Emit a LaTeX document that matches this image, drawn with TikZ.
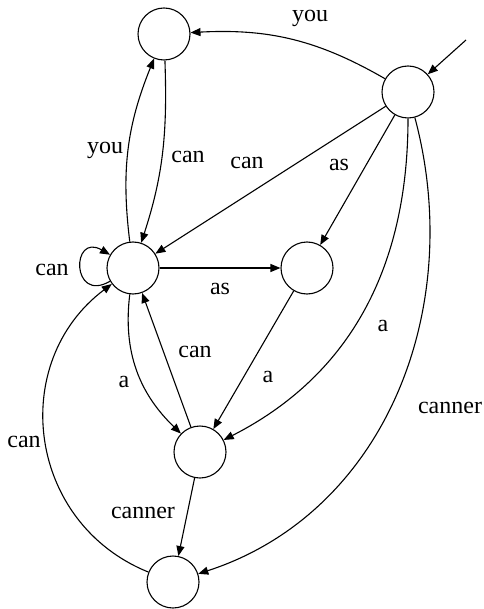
\documentclass[tikz,border=0pt]{standalone}
\usepackage{fontspec}
\setmainfont{Liberation Serif}
\usetikzlibrary{arrows.meta}
\begin{document}
\begin{tikzpicture}[x=1pt,y=1pt,
  state/.style={circle,draw,line width=1.1pt,minimum size=52pt,inner sep=0pt},
  lbl/.style={font=\fontsize{24}{28}\selectfont,inner sep=0pt},
  edge/.style={line width=1.1pt,-{Triangle[length=10pt,width=8pt]}},
]
\useasboundingbox (0,0) rectangle (483,-609);
\node[state] (q0) at (408,-92) {};
\node[state] (t) at (164,-34) {};
\node[state] (l) at (133,-268) {};
\node[state] (m) at (307,-268) {};
\node[state] (d) at (200,-452) {};
\node[state] (b) at (173,-582) {};
\coordinate (init) at (466,-40);

\draw[edge] (init) -- (q0);
\draw[edge] (q0) to[out=150,in=3] (t);
\draw[edge] (l) to[out=97,in=248] (t);
\draw[edge] (t) to[out=272,in=72] (l);
\draw[edge] (q0) -- (l);
\draw[edge] (q0) -- (m);
\draw[edge] (l) -- (m);
\draw[edge] (l.210) .. controls +(210:45) and +(150:45) .. (l.150);
\draw[edge] (l) to[out=263,in=136] (d);
\draw[edge] (d) -- (l);
\draw[edge] (m) -- (d);
\draw[edge] (q0) to[out=-90,in=27] (d);
\draw[edge] (q0) to[out=-75,in=18] (b);
\draw[edge] (b) to[out=158,in=217,looseness=1.15] (l);
\draw[edge] (d) -- (b);

\node[lbl] (l1) at (310,-18) {you};
\node[lbl] (l2) at (105,-150) {you};
\node[lbl] (l3) at (188,-157) {can};
\node[lbl] (l4) at (247,-163) {can};
\node[lbl] (l5) at (339,-165) {as};
\node[lbl] (l6) at (52,-270) {can};
\node[lbl] (l7) at (220,-289) {as};
\node[lbl] (l8) at (195,-352) {can};
\node[lbl] (l9) at (124,-382) {a};
\node[lbl] (l10) at (268,-377) {a};
\node[lbl] (l11) at (383,-326) {a};
\node[lbl] (l12) at (450,-408) {canner};
\node[lbl] (l13) at (143,-513) {canner};
\node[lbl] (l14) at (24,-442) {can};
\end{tikzpicture}
\end{document}
